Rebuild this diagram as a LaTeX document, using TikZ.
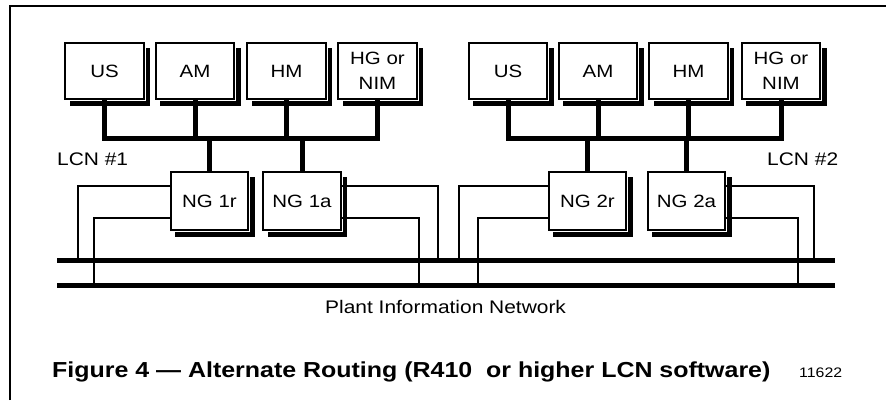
\documentclass[tikz,border=0pt]{standalone}
\usepackage{fontspec}
\setmainfont{Liberation Sans}[FakeStretch=1.15]
\usetikzlibrary{backgrounds}

\begin{document}
\begin{tikzpicture}[x=1pt,y=-1pt,
  unit/.style={rectangle, minimum width=78.5pt, minimum height=56pt,
    fill=white, draw=white, double=black, line width=1.2pt,
    double distance=1.9pt, outer sep=0pt, inner sep=0pt, align=center,
    font=\fontsize{17.8}{24.5}\selectfont},
  gate/.style={unit, minimum width=77.5pt, minimum height=58pt},
  trunk/.style={line width=5pt},
  pin/.style={line width=5pt},
  tap/.style={line width=2.2pt},
  lbl/.style={anchor=base west, inner sep=0pt, font=\fontsize{18.2}{22}\selectfont},
]
\useasboundingbox (0,0) rectangle (886,400);

% page frame (top and left edges)
\draw[line width=2.2pt] (10,400) -- (10,6) -- (886,6);

% LCN #1 modules
\node[unit] (us1) at (104.5,71) {US};
\node[unit] (am1) at (195,71) {AM};
\node[unit] (hm1) at (286.5,71) {HM};
\node[unit] (hg1) at (377.5,71) {HG or\\NIM};
% LCN #2 modules
\node[unit] (us2) at (508,71) {US};
\node[unit] (am2) at (598,71) {AM};
\node[unit] (hm2) at (688.5,71) {HM};
\node[unit] (hg2) at (781,71) {HG or\\NIM};
% network gateways
\node[gate] (ng1r) at (209.5,201) {NG 1r};
\node[gate] (ng1a) at (302,201) {NG 1a};
\node[gate] (ng2r) at (587.5,201) {NG 2r};
\node[gate] (ng2a) at (686.5,201) {NG 2a};

% drop shadows
\begin{pgfonlayer}{background}
  \foreach \n in {us1,am1,hm1,hg1,us2,am2,hm2,hg2,ng1r,ng1a,ng2r,ng2a}
    \fill ([shift={(4.5,4.5)}]\n.north west) rectangle ([shift={(6.5,6.5)}]\n.south east);
\end{pgfonlayer}

% bus levels
\coordinate (lcn) at (0,138);
\coordinate (pinAw) at (57,260);
\coordinate (pinAe) at (835,260);
\coordinate (pinBw) at (57,285);
\coordinate (pinBe) at (835,285);

% LCN #1 cable
\draw[trunk] (us1.south) -- (us1.south |- lcn) -- (hg1.south |- lcn) -- (hg1.south);
\draw[trunk] (am1.south) -- (am1.south |- lcn);
\draw[trunk] (hm1.south) -- (hm1.south |- lcn);
\draw[trunk] (ng1r.north) -- (ng1r.north |- lcn);
\draw[trunk] (ng1a.north) -- (ng1a.north |- lcn);

% LCN #2 cable
\draw[trunk] (us2.south) -- (us2.south |- lcn) -- (hg2.south |- lcn) -- (hg2.south);
\draw[trunk] (am2.south) -- (am2.south |- lcn);
\draw[trunk] (hm2.south) -- (hm2.south |- lcn);
\draw[trunk] (ng2r.north) -- (ng2r.north |- lcn);
\draw[trunk] (ng2a.north) -- (ng2a.north |- lcn);

% Plant Information Network, redundant pair
\draw[pin] (pinAw) -- (pinAe);
\draw[pin] (pinBw) -- (pinBe);

% gateway taps onto the plant network
\coordinate (t1o) at (78,260);
\coordinate (t1i) at (94,285);
\coordinate (t1O) at (438,260);
\coordinate (t1I) at (419,285);
\coordinate (t2o) at (459,260);
\coordinate (t2i) at (478,285);
\coordinate (t2O) at (814,260);
\coordinate (t2I) at (798,285);

\draw[tap] ([yshift=15pt]ng1r.west) -| (t1o);
\draw[tap] ([yshift=-17pt]ng1r.west) -| (t1i);
\draw[tap] ([yshift=15pt]ng1a.east) -| (t1O);
\draw[tap] ([yshift=-17pt]ng1a.east) -| (t1I);
\draw[tap] ([yshift=15pt]ng2r.west) -| (t2o);
\draw[tap] ([yshift=-17pt]ng2r.west) -| (t2i);
\draw[tap] ([yshift=15pt]ng2a.east) -| (t2O);
\draw[tap] ([yshift=-17pt]ng2a.east) -| (t2I);

% labels
\node[lbl] (lcnA) at (57,165) {LCN \#1};
\node[lbl] (lcnB) at (767,165) {LCN \#2};
\node[lbl] (pinl) at (325,313) {Plant Information Network};
\node[lbl, font=\fontsize{21.7}{26}\selectfont\bfseries] (title) at (52,377)
  {Figure 4 — Alternate Routing (R410\ \ or higher LCN software)};
\node[lbl, font=\fontsize{13.8}{16}\selectfont] (fignum) at (799,377) {11622};
\end{tikzpicture}
\end{document}
